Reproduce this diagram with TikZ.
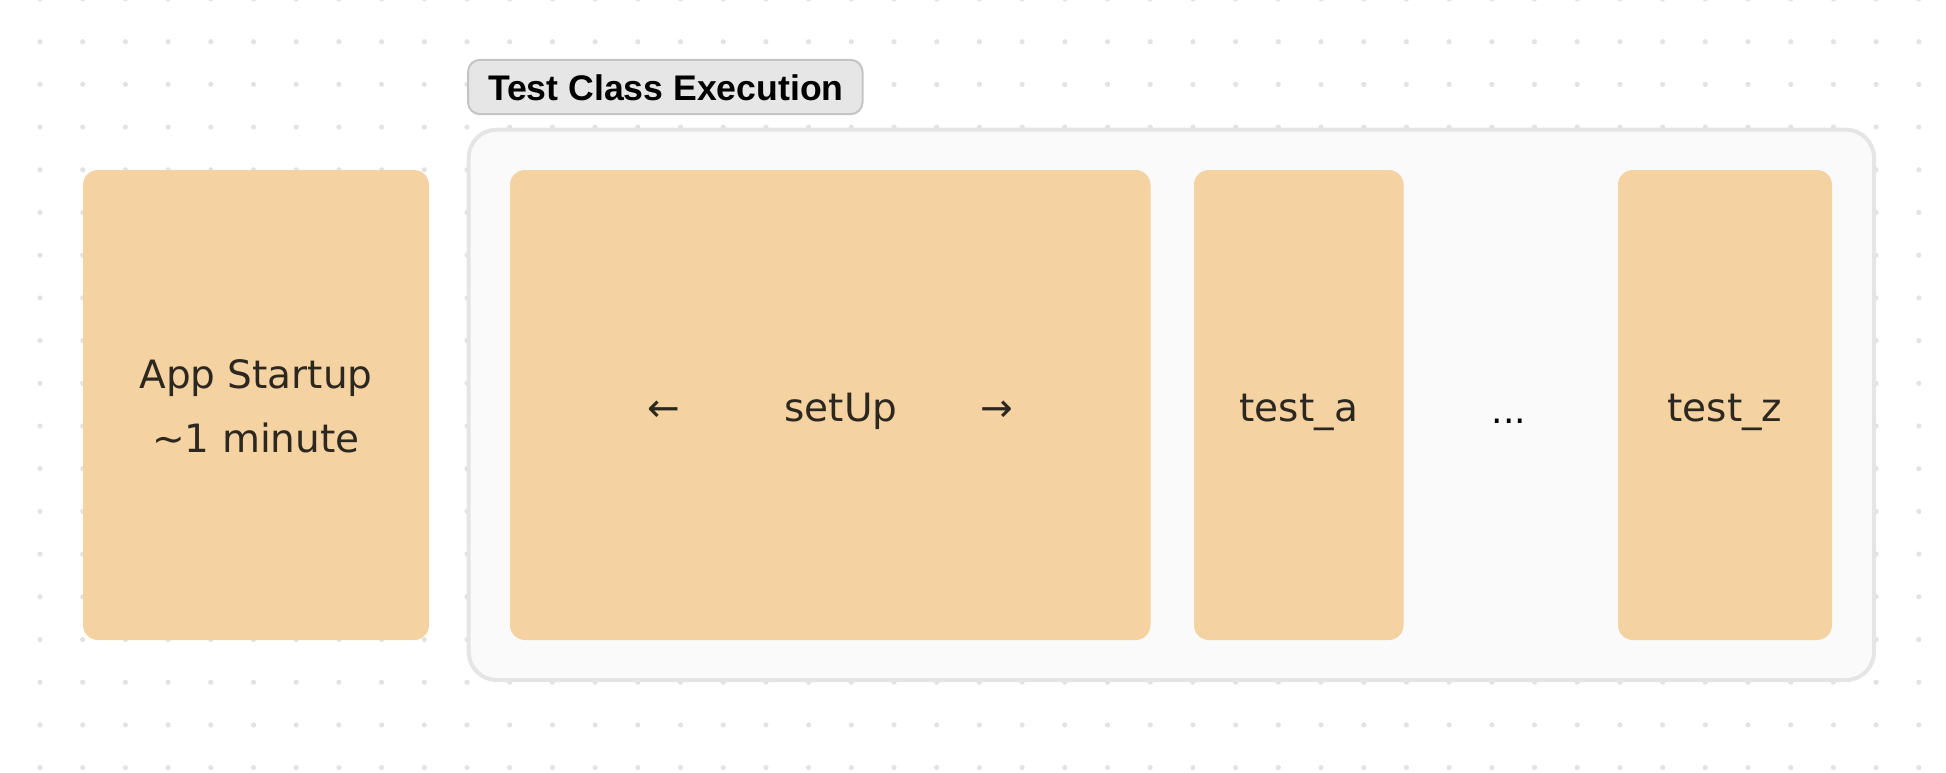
\documentclass[tikz,border=0pt]{standalone}
\usepackage{fontspec}
\setmainfont{DejaVu Sans}
\newfontfamily\tagfont{Liberation Sans}
\definecolor{peach}{HTML}{F5D2A2}
\definecolor{ink}{HTML}{2D281F}
\definecolor{dotgrey}{HTML}{E3E3E3}
\definecolor{groupfill}{HTML}{FAFAFA}
\definecolor{groupline}{HTML}{E5E5E5}
\definecolor{tagfill}{HTML}{E6E6E6}
\definecolor{tagline}{HTML}{C4C4C4}

\begin{document}
\begin{tikzpicture}[x=1pt, y=-1pt,
		block/.style={fill=peach, rounded corners=15pt, minimum height=470pt, inner sep=0pt},
		txt/.style={anchor=base, text=ink, inner sep=0pt, font=\fontsize{39}{64}\selectfont},
		group/.style={draw=groupline, line width=4pt, fill=groupfill, rounded corners=28pt, inner sep=0pt},
		tag/.style={draw=tagline, line width=2pt, fill=tagfill, rounded corners=12pt, inner sep=0pt}]
	\useasboundingbox (0,0) rectangle (1946,772);
	% dotted canvas
	\foreach \i in {0,...,46}
		\foreach \j in {0,...,18}
			\fill[dotgrey] (-2.7+42.7*\i, -1+42.7*\j) circle (2.6pt);

	\node[group, minimum width=1405.3pt, minimum height=550.3pt] (tce) at (1171.35, 404.85) {};
	\node[tag, minimum width=394.5pt, minimum height=54.4pt] (tcelabel) at (665.3, 87) {};
	\node[anchor=base, inner sep=0pt, font=\tagfont\bfseries\fontsize{35.6}{40}\selectfont] (tcetext) at (665.8, 100) {Test Class Execution};

	\node[block, minimum width=346pt] (startup) at (256, 405) {};
	\node[block, minimum width=640.5pt] (setup) at (830.25, 405) {};
	\node[block, minimum width=209.6pt] (testa) at (1298.8, 405) {};
	\node[block, minimum width=214pt] (testz) at (1725, 405) {};

	\node[txt, align=center] (startuptext) at (256, 452.6) {App Startup\\\textasciitilde 1 minute};
	\node[txt] (setupleft) at (663.7, 421.7) {←};
	\node[txt] (setuptext) at (841, 421.7) {setUp};
	\node[txt] (setupright) at (997, 421.7) {→};
	\node[txt] (testatext) at (1298.8, 421.7) {test\_a};
	\node[txt, text=black, font=\fontsize{36}{40}\selectfont] (moretests) at (1509, 423) {...};
	\node[txt] (testztext) at (1725, 421.7) {test\_z};
\end{tikzpicture}
\end{document}
